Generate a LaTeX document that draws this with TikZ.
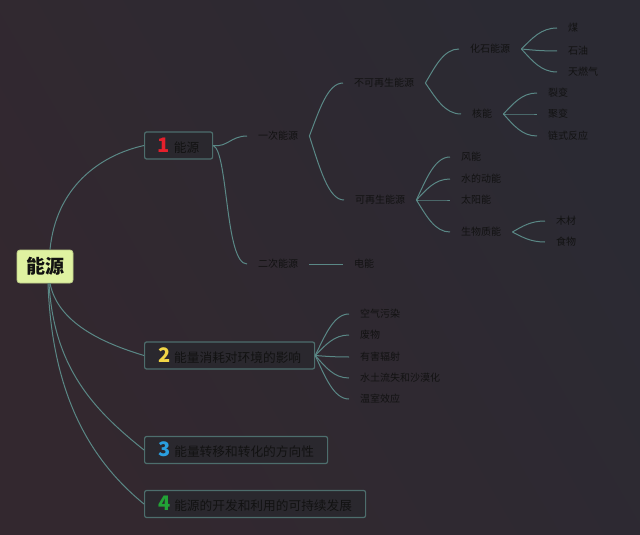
\documentclass[tikz,border=0pt]{standalone}
\usepackage{fontspec}
\setmainfont{Noto Sans CJK SC}
\usetikzlibrary{calc}
\definecolor{bgA}{HTML}{2B2A33}
\definecolor{bgB}{HTML}{33282F}
\definecolor{conn}{HTML}{5A8886}
\definecolor{boxline}{HTML}{4D6E6D}
\definecolor{boxfill}{HTML}{2A282E}
\definecolor{rootfill}{HTML}{DFF2A1}
\definecolor{ink}{HTML}{121212}
\definecolor{nred}{HTML}{E5202C}
\definecolor{nyellow}{HTML}{F2D646}
\definecolor{nblue}{HTML}{2A9FE0}
\definecolor{ngreen}{HTML}{22A336}
\tikzset{
  connline/.style={draw=conn, line width=1pt},
  lbl/.style={anchor=west, inner xsep=11pt, inner ysep=1pt, text=ink, font=\fontsize{10}{12}\selectfont},
  mainbox/.style={anchor=west, draw=boxline, fill=boxfill, line width=1.2pt, rounded corners=2pt,
    minimum height=27pt, inner xsep=4pt, text=ink, font=\fontsize{12.7}{14}\selectfont},
  rootbox/.style={draw=rootfill!85!black, fill=rootfill, rounded corners=3pt, line width=0.8pt,
    minimum width=56pt, minimum height=33pt, text=ink, font=\fontsize{19}{22}\selectfont\bfseries},
}
\newcommand\numb[2]{{\color{#1}\fontsize{20}{20}\selectfont\bfseries #2}\hspace{4pt}}
\newcommand\edge[2]{\draw[connline] let \p1=(#1.east), \p2=(#2.west), \n1={\x2-\x1}, \n2={\y2-\y1} in
  (\p1) .. controls ($(\p1)+(0.3*\n1,0.5*\n2)$) and ($(\p2)+(-0.45*\n1,0)$) .. (\p2);}
\begin{document}
\begin{tikzpicture}[x=1pt,y=-1pt]
\shade[left color=bgA, right color=bgB, shading angle=-60] (0,0) rectangle (640,535);
\useasboundingbox (0,0) rectangle (640,535);

% root and main topics
\node[rootbox] (root) at (45,266.5) {能源};
\node[mainbox, minimum width=68pt] (t1) at (144,145.5) {\numb{nred}{1}能源};
\node[mainbox, minimum width=170pt] (t2) at (144,355.5) {\numb{nyellow}{2}能量消耗对环境的影响};
\node[mainbox, minimum width=183pt] (t3) at (144,450) {\numb{nblue}{3}能量转移和转化的方向性};
\node[mainbox, minimum width=221pt] (t4) at (144,504) {\numb{ngreen}{4}能源的开发和利用的可持续发展};

% branch 1
\node[lbl] (p1) at (247,136) {一次能源};
\node[lbl] (p2) at (247,264) {二次能源};
\node[lbl] (nr) at (343,83) {不可再生能源};
\node[lbl] (rn) at (344,200) {可再生能源};
\node[lbl] (fo) at (459,49) {化石能源};
\node[lbl] (nu) at (461,114) {核能};
\node[lbl] (c1) at (557,28) {煤};
\node[lbl] (c2) at (557,51) {石油};
\node[lbl] (c3) at (557,72) {天燃气};
\node[lbl] (n1) at (537,93) {裂变};
\node[lbl] (n2) at (537,114) {聚变};
\node[lbl] (n3) at (537,136) {链式反应};
\node[lbl] (r1) at (450,157) {风能};
\node[lbl] (r2) at (450,179) {水的动能};
\node[lbl] (r3) at (450,200) {太阳能};
\node[lbl] (r4) at (450,232) {生物质能};
\node[lbl] (b1) at (545,221) {木材};
\node[lbl] (b2) at (545,242) {食物};
\node[lbl] (el) at (343,264) {电能};

% branch 2
\node[lbl] (e1) at (349,314) {空气污染};
\node[lbl] (e2) at (349,335) {废物};
\node[lbl] (e3) at (349,357) {有害辐射};
\node[lbl] (e4) at (349,378) {水土流失和沙漠化};
\node[lbl] (e5) at (349,399) {温室效应};

% root connectors
\draw[connline] ([xshift=5pt]root.north) .. controls +(6,-62) and +(-45,10) .. (t1.west);
\draw[connline] ([xshift=5pt]root.south) .. controls +(8,40) and +(-40,-12) .. (t2.west);
\draw[connline] ([xshift=4pt]root.south) .. controls +(5,85) and +(-50,-40) .. (t3.west);
\draw[connline] ([xshift=3pt]root.south) .. controls +(4,110) and +(-55,-45) .. (t4.west);

% topic 1 connectors
\draw[connline] (t1.east) .. controls +(14,2) and +(-16,0) .. (p1.west);
\draw[connline] (t1.east) .. controls +(15,6) and +(-22,0) .. (p2.west);
\edge{p1}{nr}
\edge{p1}{rn}
\edge{nr}{fo}
\edge{nr}{nu}
\edge{fo}{c1}
\edge{fo}{c2}
\edge{fo}{c3}
\edge{nu}{n1}
\edge{nu}{n2}
\edge{nu}{n3}
\edge{rn}{r1}
\edge{rn}{r2}
\edge{rn}{r3}
\edge{rn}{r4}
\edge{r4}{b1}
\edge{r4}{b2}
\draw[connline] (p2.east) -- (el.west);

% topic 2 connectors
\edge{t2}{e1}
\edge{t2}{e2}
\edge{t2}{e3}
\edge{t2}{e4}
\edge{t2}{e5}
\end{tikzpicture}
\end{document}
